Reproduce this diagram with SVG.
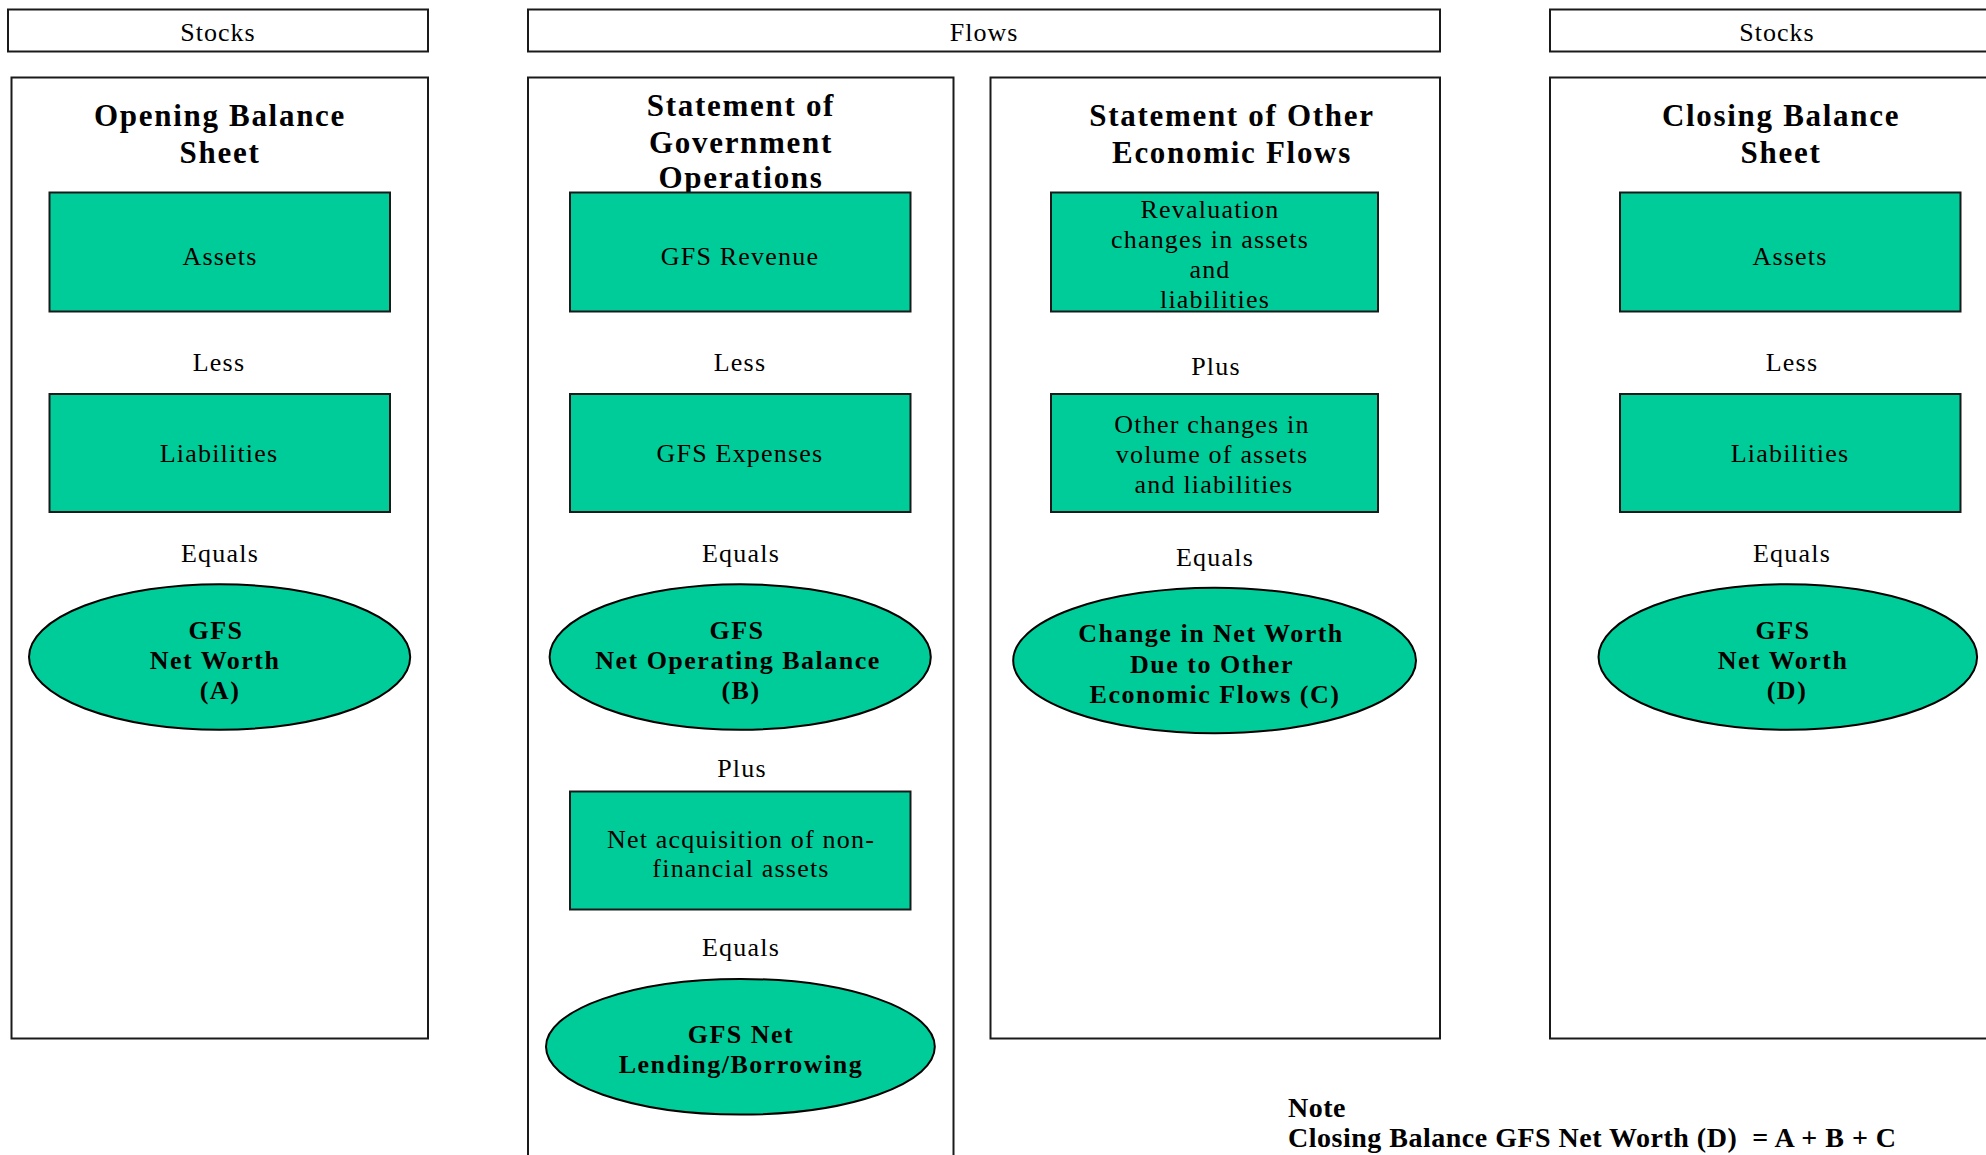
<svg xmlns="http://www.w3.org/2000/svg" width="1986" height="1155" viewBox="0 0 1986 1155">
  <style>
    .frame { fill: #ffffff; stroke: #1a1a1a; stroke-width: 2; }
    .item { fill: #00cc99; stroke: #1a1a1a; stroke-width: 2; }
    .result { fill: #00cc99; stroke: #000000; stroke-width: 2; }
    text { font-family: "Liberation Serif", "Times New Roman", serif; fill: #000000; text-anchor: middle; }
    .head { font-size: 26px; letter-spacing: 1px; }
    .title { font-size: 31px; font-weight: bold; letter-spacing: 1.7px; }
    .label { font-size: 26px; letter-spacing: 1.2px; }
    .bold { font-size: 26px; font-weight: bold; letter-spacing: 1.5px; }
    .note { font-size: 28px; font-weight: bold; letter-spacing: 0.5px; text-anchor: start; }
  </style>

  <!-- column headers -->
  <g id="header-stocks-opening">
    <rect class="frame" x="8" y="9.5" width="420" height="42"/>
    <text class="head" x="218" y="41">Stocks</text>
  </g>
  <g id="header-flows">
    <rect class="frame" x="528" y="9.5" width="912" height="42"/>
    <text class="head" x="984" y="41">Flows</text>
  </g>
  <g id="header-stocks-closing">
    <rect class="frame" x="1550" y="9.5" width="450" height="42"/>
    <text class="head" x="1777" y="41">Stocks</text>
  </g>

  <!-- statement panels -->
  <g id="panel-opening">
    <rect class="frame" x="11.5" y="77.5" width="416.5" height="961"/>
    <text class="title" x="220" y="126">Opening Balance</text>
    <text class="title" x="220" y="163">Sheet</text>
  </g>
  <g id="panel-operations">
    <rect class="frame" x="528" y="77.5" width="425.5" height="1090"/>
    <text class="title" x="741" y="116">Statement of</text>
    <text class="title" x="741" y="153">Government</text>
    <text class="title" x="741" y="188">Operations</text>
  </g>
  <g id="panel-other-flows">
    <rect class="frame" x="990.5" y="77.5" width="449.5" height="961"/>
    <text class="title" x="1232" y="126">Statement of Other</text>
    <text class="title" x="1232" y="163">Economic Flows</text>
  </g>
  <g id="panel-closing">
    <rect class="frame" x="1550" y="77.5" width="450" height="961"/>
    <text class="title" x="1781" y="126">Closing Balance</text>
    <text class="title" x="1781" y="163">Sheet</text>
  </g>

  <!-- opening balance sheet -->
  <g id="opening-assets">
    <rect class="item" x="49.5" y="192.5" width="340.5" height="119"/>
    <text class="label" x="220" y="265">Assets</text>
  </g>
  <g id="opening-liabilities">
    <rect class="item" x="49.5" y="394" width="340.5" height="118"/>
    <text class="label" x="219" y="462">Liabilities</text>
  </g>
  <g id="opening-net-worth">
    <ellipse class="result" cx="219.6" cy="657" rx="190.6" ry="72.8"/>
    <text class="bold" x="216" y="638.5">GFS</text>
    <text class="bold" x="215" y="669">Net Worth</text>
    <text class="bold" x="220" y="699">(A)</text>
  </g>

  <!-- statement of government operations -->
  <g id="gfs-revenue">
    <rect class="item" x="570" y="192.5" width="340.5" height="119"/>
    <text class="label" x="740" y="265">GFS Revenue</text>
  </g>
  <g id="gfs-expenses">
    <rect class="item" x="570" y="394" width="340.5" height="118"/>
    <text class="label" x="740" y="462">GFS Expenses</text>
  </g>
  <g id="net-operating-balance">
    <ellipse class="result" cx="740.2" cy="657" rx="190.6" ry="72.8"/>
    <text class="bold" x="737" y="638.5">GFS</text>
    <text class="bold" x="738" y="669">Net Operating Balance</text>
    <text class="bold" x="741" y="699">(B)</text>
  </g>
  <g id="nonfinancial-assets">
    <rect class="item" x="570" y="791.5" width="340.5" height="118"/>
    <text class="label" x="741" y="847.5">Net acquisition of non-</text>
    <text class="label" x="741" y="877">financial assets</text>
  </g>
  <g id="net-lending-borrowing">
    <ellipse class="result" cx="740.4" cy="1046.8" rx="194.4" ry="67.8"/>
    <text class="bold" x="741" y="1042.5">GFS Net</text>
    <text class="bold" x="741" y="1073">Lending/Borrowing</text>
  </g>

  <!-- statement of other economic flows -->
  <g id="revaluation-changes">
    <rect class="item" x="1051" y="192.5" width="327" height="119"/>
    <text class="label" x="1210" y="218">Revaluation</text>
    <text class="label" x="1210" y="248">changes in assets</text>
    <text class="label" x="1210" y="278">and</text>
    <text class="label" x="1215" y="308">liabilities</text>
  </g>
  <g id="volume-changes">
    <rect class="item" x="1051" y="394" width="327" height="118"/>
    <text class="label" x="1212" y="433">Other changes in</text>
    <text class="label" x="1212" y="463">volume of assets</text>
    <text class="label" x="1214" y="493">and liabilities</text>
  </g>
  <g id="change-in-net-worth">
    <ellipse class="result" cx="1214.6" cy="660.5" rx="201.4" ry="72.8"/>
    <text class="bold" x="1211" y="642">Change in Net Worth</text>
    <text class="bold" x="1212" y="672.5">Due to Other</text>
    <text class="bold" x="1215" y="703">Economic Flows (C)</text>
  </g>

  <!-- closing balance sheet -->
  <g id="closing-assets">
    <rect class="item" x="1620" y="192.5" width="340.5" height="119"/>
    <text class="label" x="1790" y="265">Assets</text>
  </g>
  <g id="closing-liabilities">
    <rect class="item" x="1620" y="394" width="340.5" height="118"/>
    <text class="label" x="1790" y="462">Liabilities</text>
  </g>
  <g id="closing-net-worth">
    <ellipse class="result" cx="1787.8" cy="657" rx="189.3" ry="72.8"/>
    <text class="bold" x="1783" y="638.5">GFS</text>
    <text class="bold" x="1783" y="669">Net Worth</text>
    <text class="bold" x="1787" y="699">(D)</text>
  </g>

  <!-- operators between items -->
  <g id="connectors">
    <text class="label" x="219" y="371">Less</text>
    <text class="label" x="220" y="562">Equals</text>
    <text class="label" x="740" y="371">Less</text>
    <text class="label" x="741" y="562">Equals</text>
    <text class="label" x="742" y="776.5">Plus</text>
    <text class="label" x="741" y="956">Equals</text>
    <text class="label" x="1216" y="375">Plus</text>
    <text class="label" x="1215" y="566">Equals</text>
    <text class="label" x="1792" y="371">Less</text>
    <text class="label" x="1792" y="562">Equals</text>
  </g>

  <!-- footnote -->
  <g id="note">
    <text class="note" x="1288" y="1117">Note</text>
    <text class="note" x="1288" y="1147" xml:space="preserve">Closing Balance GFS Net Worth (D)  = A + B + C</text>
  </g>
</svg>
